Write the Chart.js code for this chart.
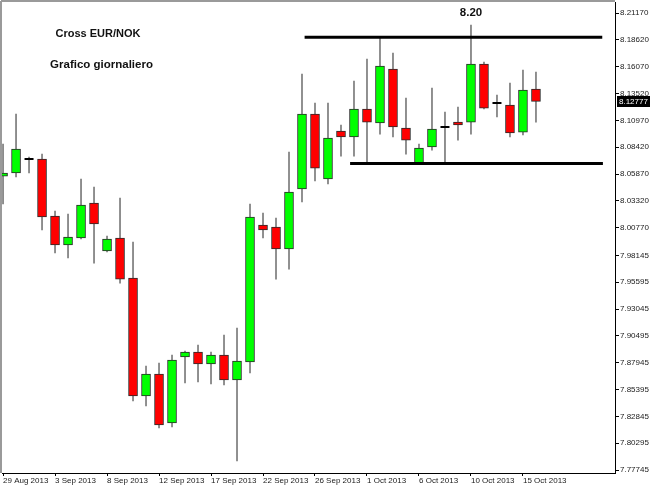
<!DOCTYPE html>
<html>
<head>
<meta charset="utf-8">
<script src="https://cdn.jsdelivr.net/npm/chart.js@4/dist/chart.umd.min.js"></script>
<style>
html,body{margin:0;padding:0;background:#fff;}
#wrap{width:650px;height:488px;}
</style>
</head>
<body>
<div id="wrap"><canvas id="c" width="650" height="488"></canvas></div>
<script>
// Daily candles, 29 Aug 2013 - 16 Oct 2013 (broker days incl. Sundays)
const dates = ["29 Aug 2013","30 Aug 2013","1 Sep 2013","2 Sep 2013","3 Sep 2013","4 Sep 2013","5 Sep 2013","6 Sep 2013",
  "8 Sep 2013","9 Sep 2013","10 Sep 2013","11 Sep 2013","12 Sep 2013","13 Sep 2013","15 Sep 2013","16 Sep 2013",
  "17 Sep 2013","18 Sep 2013","19 Sep 2013","20 Sep 2013","22 Sep 2013","23 Sep 2013","24 Sep 2013","25 Sep 2013",
  "26 Sep 2013","27 Sep 2013","29 Sep 2013","30 Sep 2013","1 Oct 2013","2 Oct 2013","3 Oct 2013","4 Oct 2013",
  "6 Oct 2013","7 Oct 2013","8 Oct 2013","9 Oct 2013","10 Oct 2013","11 Oct 2013","13 Oct 2013","14 Oct 2013",
  "15 Oct 2013","16 Oct 2013"];
const open  = [8.0568,8.0597,8.0730,8.0730,8.0188,7.9913,7.9979,8.0312,7.9856,7.9979,7.9599,7.8478,7.8687,7.8221,7.8848,7.8896,
  7.8782,7.8867,7.8630,7.8801,8.0103,8.0084,7.9875,8.0445,8.1157,8.0540,8.0996,8.0939,8.1205,8.1072,8.1585,8.1024,
  8.0692,8.0844,8.1034,8.1081,8.1081,8.1632,8.1262,8.1243,8.0986,8.1395];
const close = [8.0597,8.0825,8.0730,8.0179,7.9913,7.9989,8.0293,8.0112,7.9970,7.9589,7.8478,7.8687,7.8202,7.8820,7.8896,7.8782,
  7.8867,7.8630,7.8810,8.0179,8.0055,7.9875,8.0416,8.1157,8.0644,8.0929,8.0939,8.1205,8.1081,8.1613,8.1034,8.0910,
  8.0834,8.1015,8.1034,8.1053,8.1632,8.1214,8.1262,8.0977,8.1385,8.12777];
const high  = [8.0872,8.1157,8.0749,8.0777,8.0236,8.0207,8.0540,8.0464,7.9998,8.0359,7.9941,7.8763,7.8791,7.8867,7.8905,7.8962,
  7.8896,7.9057,7.9124,8.0302,8.0217,8.0169,8.0796,8.1537,8.1262,8.1262,8.1053,8.1471,8.1680,8.1879,8.1737,8.1309,
  8.0872,8.1404,8.1176,8.1224,8.2003,8.1651,8.1338,8.1452,8.1575,8.1556];
const low   = [8.0302,8.0559,8.0597,8.0055,7.9837,7.9789,7.9970,7.9741,7.9846,7.9551,7.8430,7.8383,7.8174,7.8183,7.8601,7.8611,
  7.8592,7.8582,7.7860,7.8696,7.9979,7.9589,7.9684,8.0321,8.0521,8.0492,8.0758,8.0758,8.0682,8.0967,8.0939,8.0777,
  8.0692,8.0815,8.0692,8.0910,8.0967,8.1205,8.1129,8.0939,8.0958,8.1081];
const yTicks = [8.21170,8.18620,8.16070,8.13520,8.10970,8.08420,8.05870,8.03320,8.00770,7.98145,7.95595,7.93045,7.90495,7.87945,7.85395,7.82845,7.80295,7.77745];
const xTickIdx = [0,4,8,12,16,20,24,28,32,36,40];
// horizontal levels: [startIndex, endIndex, price]
const resistance = [23.2, 46.1, 8.1886];
const support    = [26.7, 46.15, 8.0687];
const titleLines = ["Cross EUR/NOK","Grafico giornaliero"];

const idx = dates.map((d,i)=>i);
const wickData = idx.map(i=>({x:i, y:[low[i], high[i]]}));
const bodyIdx = idx.filter(i=>open[i]!==close[i]);
const bodyData = bodyIdx.map(i=>({x:i, y:[open[i], close[i]]}));
const bodyColors = bodyIdx.map(i=> close[i]>open[i] ? '#00ff00' : '#ff0000');
const dojiData = idx.filter(i=>open[i]===close[i]).map(i=>({x:i, y:close[i]}));
const peakIdx = high.indexOf(Math.max(...high));

const noPad = ax => { ax.paddingTop = 0; ax.paddingBottom = 0; ax.paddingLeft = 0; ax.paddingRight = 0; };

const overlay = {
  id:'overlay',
  beforeDraw(chart){
    const ctx = chart.ctx; ctx.save(); ctx.fillStyle='#fff'; ctx.fillRect(0,0,chart.width,chart.height); ctx.restore();
  },
  afterDraw(chart){
    const ctx = chart.ctx, a = chart.chartArea, xs = chart.scales.x, ys = chart.scales.y;
    ctx.save();
    // window frame (top/left)
    ctx.strokeStyle='#9a9a9a'; ctx.lineWidth=2;
    ctx.beginPath(); ctx.moveTo(a.left-1, a.top-1); ctx.lineTo(a.right, a.top-1);
    ctx.moveTo(a.left-1, a.top-1); ctx.lineTo(a.left-1, a.bottom); ctx.stroke();
    // titles
    ctx.fillStyle='#111'; ctx.textAlign='center'; ctx.textBaseline='middle';
    ctx.font='bold 11px "Liberation Sans", Arial, sans-serif';
    ctx.fillText(titleLines[0], 98, 34);
    ctx.font='bold 11.5px "Liberation Sans", Arial, sans-serif';
    ctx.fillText(titleLines[1], 101.5, 64.5);
    // peak label
    ctx.font='bold 11.5px "Liberation Sans", Arial, sans-serif';
    ctx.fillText(high[peakIdx].toFixed(2), xs.getPixelForValue(peakIdx), ys.getPixelForValue(high[peakIdx]) - 12);
    // last price box
    const last = close[close.length-1];
    const py = ys.getPixelForValue(last);
    ctx.fillStyle='#000'; ctx.fillRect(a.right+2, Math.round(py)-5, chart.width - a.right - 2, 11);
    ctx.fillStyle='#fff'; ctx.textAlign='left';
    ctx.font='8px "Liberation Sans", Arial, sans-serif';
    ctx.fillText(last.toFixed(5), a.right+4, Math.round(py)+0.5);
    ctx.restore();
  }
};

new Chart(document.getElementById('c'), {
  type:'bar',
  data:{
    datasets:[
      {type:'bar', label:'wick', data:wickData, backgroundColor:'#7a7a7a', barThickness:1, grouped:false, order:5, borderWidth:0},
      {type:'bar', label:'body', data:bodyData, backgroundColor:bodyColors, borderColor:'#2a2a2a', borderWidth:1,
        borderSkipped:false, barThickness:9, grouped:false, order:4},
      {type:'scatter', label:'doji', data:dojiData, pointStyle:'line', pointRadius:4.5, pointHoverRadius:4.5, borderColor:'#000', borderWidth:2, order:3},
      {type:'line', label:'res', data:[{x:resistance[0],y:resistance[2]},{x:resistance[1],y:resistance[2]}],
        borderColor:'#000', borderWidth:3, pointRadius:0, pointHoverRadius:0, order:1, borderCapStyle:'butt'},
      {type:'line', label:'sup', data:[{x:support[0],y:support[2]},{x:support[1],y:support[2]}],
        borderColor:'#000', borderWidth:3, pointRadius:0, pointHoverRadius:0, order:1, borderCapStyle:'butt'}
    ]
  },
  options:{
    responsive:false, animation:false, devicePixelRatio:1, events:[],
    layout:{padding:{top:2,left:2,right:0,bottom:0}, autoPadding:false},
    plugins:{legend:{display:false}, tooltip:{enabled:false}, title:{display:false}},
    scales:{
      x:{type:'linear', min:-0.08, max:47.08, offset:false,
        afterBuildTicks: ax => { ax.ticks = xTickIdx.map(v=>({value:v})); },
        afterFit: ax => { ax.height = 15; noPad(ax); },
        ticks:{callback:(v,i)=>dates[xTickIdx[i]], align:'start', maxRotation:0, autoSkip:false, padding:0,
          color:'#1a1a1a', font:{family:'"Liberation Sans", Arial, sans-serif', size:8}},
        grid:{drawOnChartArea:false, drawTicks:true, tickLength:3, color:'#000', offset:false},
        border:{color:'#000', width:1}
      },
      y:{type:'linear', position:'right', min:7.7746, max:8.2222,
        afterBuildTicks: ax => { ax.ticks = yTicks.map(v=>({value:v})); },
        afterFit: ax => { ax.width = 35; noPad(ax); },
        ticks:{callback:v=>v.toFixed(5), autoSkip:false, padding:1, color:'#1a1a1a',
          font:{family:'"Liberation Sans", Arial, sans-serif', size:8}},
        grid:{drawOnChartArea:false, drawTicks:true, tickLength:4, color:'#000'},
        border:{color:'#000', width:1}
      }
    }
  },
  plugins:[overlay]
});
</script>
</body>
</html>
